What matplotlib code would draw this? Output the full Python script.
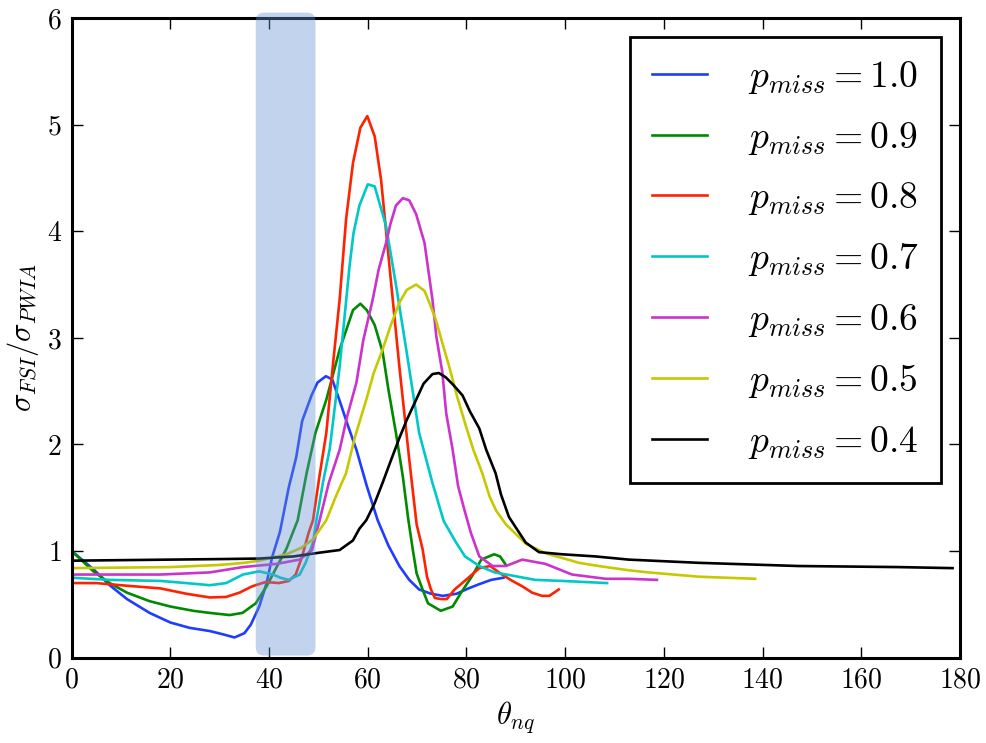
import numpy as np
import matplotlib
matplotlib.use('Agg')
from matplotlib import pyplot as plt
from matplotlib.patches import FancyBboxPatch

plt.rcParams['font.family'] = 'serif'
plt.rcParams['font.serif'] = ['cmr10']
plt.rcParams['mathtext.fontset'] = 'cm'
plt.rcParams['axes.formatter.use_mathtext'] = True

# p_miss = 1.0
x_10 = [0, 4.4, 7.7, 11.2, 15.8, 20, 23.9, 28, 30.6, 33, 35, 36.3, 38, 39.5, 40.6, 42.2, 44, 45.5, 46.7,
        48.6, 49.8, 51.5, 52.8, 54.3, 55.8, 57.7, 59.8, 62, 64.2, 66.4, 68.4, 70.4, 72.8, 75.2, 78, 80.4,
        82.6, 85, 87.5]
y_10 = [1.00, 0.83, 0.68, 0.55, 0.42, 0.33, 0.28, 0.25, 0.22, 0.19, 0.23, 0.31, 0.48, 0.70, 0.94, 1.18, 1.60,
        1.88, 2.22, 2.46, 2.58, 2.64, 2.61, 2.41, 2.20, 1.95, 1.61, 1.29, 1.05, 0.86, 0.73, 0.64, 0.60, 0.58,
        0.60, 0.65, 0.69, 0.73, 0.75]
# p_miss = 0.9
x_09 = [0, 4.4, 7.7, 11.2, 15.8, 20, 24.6, 28, 32, 34.6, 37.3, 39.5, 41.3, 43.5, 45.8, 47.6, 49.4, 51.6,
        54.3, 57, 58.5, 59.8, 61.4, 63, 64.2, 65.7, 67.1, 68.2, 69.1, 69.9, 71.1, 72.2, 74.8, 77.2, 78.9,
        81.2, 83, 85.6, 86.8, 88]
y_09 = [1.00, 0.81, 0.70, 0.61, 0.53, 0.48, 0.44, 0.42, 0.40, 0.42, 0.51, 0.67, 0.83, 1.02, 1.29, 1.73, 2.11,
        2.42, 2.89, 3.26, 3.32, 3.26, 3.12, 2.87, 2.51, 2.11, 1.70, 1.30, 1.02, 0.79, 0.64, 0.51, 0.44, 0.48,
        0.61, 0.77, 0.92, 0.97, 0.95, 0.87]
# p_miss = 0.8
x_08 = [0, 5, 11.2, 18, 23.2, 28, 31.3, 34, 36.6, 39.3, 42, 44, 45.4, 46.7, 48, 48.9, 50.2, 51.6, 52.9,
        54.3, 55.6, 57, 58.5, 59.9, 61.4, 62.7, 64.4, 66.4, 68.4, 69.9, 71.1, 72, 72.8, 73.6, 74.8, 76,
        77.6, 79.9, 82.6, 84.8, 87.2, 89.3, 91.3, 93.3, 95.3, 96.8, 98.7]
y_08 = [0.70, 0.70, 0.675, 0.65, 0.60, 0.565, 0.57, 0.61, 0.67, 0.71, 0.70, 0.72, 0.78, 0.95, 1.17, 1.29,
        1.70, 2.11, 2.73, 3.36, 4.11, 4.64, 4.97, 5.08, 4.89, 4.48, 3.67, 2.73, 1.86, 1.25, 1.02, 0.76, 0.64,
        0.56, 0.55, 0.55, 0.64, 0.73, 0.84, 0.86, 0.78, 0.72, 0.67, 0.61, 0.58, 0.58, 0.64]
# p_miss = 0.7
x_07 = [0, 7.7, 18, 23.2, 28, 31.3, 34.7, 38, 40.8, 42.3, 44, 46.2, 47.4, 48.9, 49.6, 50.9, 52.3, 54.3,
        56.3, 57.1, 58.3, 60, 61.4, 63.7, 65.7, 67.8, 70.4, 73.1, 75.4, 77.9, 79.7, 82.6, 85.7, 89.3, 93.9,
        99.4, 108.5]
y_07 = [0.75, 0.73, 0.72, 0.70, 0.68, 0.70, 0.78, 0.81, 0.78, 0.75, 0.73, 0.78, 0.89, 1.08, 1.29, 1.64, 1.96,
        2.73, 3.67, 3.98, 4.24, 4.44, 4.42, 4.05, 3.50, 2.89, 2.11, 1.64, 1.28, 1.08, 0.95, 0.86, 0.80, 0.77,
        0.73, 0.72, 0.70]
# p_miss = 0.6
x_06 = [0, 10, 18, 28, 34.7, 41.5, 46.2, 48.7, 50.3, 52.1, 54.3, 55.8, 57.7, 59.1, 61, 62.2, 63.7, 64.6,
        65.7, 67.1, 68.4, 69.8, 71.5, 73.1, 73.9, 75.1, 75.9, 77.2, 78.3, 79.5, 80.9, 82.6, 85.3, 88, 91.3,
        96, 101.4, 108.2, 112.9, 118.6]
y_06 = [0.78, 0.78, 0.78, 0.80, 0.85, 0.88, 0.92, 1.01, 1.30, 1.64, 1.95, 2.26, 2.58, 2.98, 3.36, 3.64, 3.89,
        4.07, 4.24, 4.31, 4.29, 4.16, 3.89, 3.36, 3.01, 2.68, 2.29, 1.95, 1.61, 1.40, 1.17, 0.95, 0.86, 0.86,
        0.92, 0.88, 0.78, 0.74, 0.74, 0.73]
# p_miss = 0.5
x_05 = [0, 10, 20, 30, 35, 38, 43.5, 46.5, 48.9, 51.6, 53.5, 55.6, 57.4, 59.7, 61.2, 63, 64.6, 66.4, 67.9,
        69.8, 71.5, 72.3, 73.8, 75, 76.5, 78.1, 79.9, 81.4, 83.2, 84.7, 86, 88, 92, 96, 102.8, 106.8, 112.9,
        116.9, 127, 138.5]
y_05 = [0.84, 0.845, 0.85, 0.87, 0.89, 0.91, 0.97, 1.03, 1.11, 1.29, 1.51, 1.73, 2.07, 2.42, 2.67, 2.89,
        3.11, 3.33, 3.45, 3.50, 3.44, 3.35, 3.17, 2.97, 2.73, 2.45, 2.17, 1.95, 1.73, 1.51, 1.38, 1.25, 1.07,
        0.98, 0.89, 0.86, 0.82, 0.80, 0.76, 0.74]
# p_miss = 0.4
x_04 = [0, 10, 20, 30, 38, 45, 50.2, 54.3, 57, 58.3, 59.7, 61.4, 63, 64.6, 66.4, 67.9, 69.8, 71.3, 73.1,
        74.4, 75.8, 77.3, 79.2, 80.7, 82.6, 84, 85.9, 87, 88.6, 92, 94.7, 99.4, 106.1, 112.9, 127, 147.2,
        167.4, 178.5]
y_04 = [0.91, 0.915, 0.92, 0.925, 0.93, 0.95, 0.985, 1.01, 1.10, 1.21, 1.29, 1.45, 1.64, 1.84, 2.06, 2.23,
        2.42, 2.57, 2.66, 2.67, 2.63, 2.56, 2.46, 2.31, 2.15, 1.95, 1.73, 1.53, 1.32, 1.08, 0.99, 0.97, 0.95,
        0.92, 0.89, 0.86, 0.85, 0.84]

series = [(x_10, y_10, '#1f3cff', '1.0'), (x_09, y_09, '#008a00', '0.9'), (x_08, y_08, '#ff2200', '0.8'),
          (x_07, y_07, '#00c8c8', '0.7'), (x_06, y_06, '#cc33cc', '0.6'), (x_05, y_05, '#c8c800', '0.5'),
          (x_04, y_04, 'k', '0.4')]

band_lo, band_hi = 37.3, 49.4

fig = plt.figure(figsize=(9.86, 7.43), dpi=100)
ax = fig.add_axes([0.0727, 0.1148, 0.9009, 0.861])

for xs, ys, col, lab in series:
    ax.plot(xs, ys, color=col, lw=1.9, label=r'$p_{miss} = %s$' % lab)

ax.set_xlim(0, 180)
ax.set_ylim(0, 6)
ax.set_xticks(np.arange(0, 181, 20))
ax.set_yticks(np.arange(0, 7, 1))

# shaded region, rounded corners (aspect corrected)
asp = (0.9009 * 986 / 180.0) / (0.861 * 743 / 6.0)
band = FancyBboxPatch((band_lo, 0.02), band_hi - band_lo, 6.03,
                      boxstyle='round,pad=0,rounding_size=1.7', mutation_aspect=asp,
                      fc=(0.40, 0.575, 0.825), ec='none', alpha=0.4, zorder=5, clip_on=False)
ax.add_patch(band)

for s in ax.spines.values():
    s.set_linewidth(2.2)
ax.tick_params(direction='in', length=8, width=1, top=True, right=True, labelsize=20, pad=7)

ax.set_xlabel(r'$\theta_{nq}$', fontsize=22)
ax.set_ylabel(r'$\sigma_{FSI}/\sigma_{PWIA}$', fontsize=22)

leg = ax.legend(loc='upper right', fontsize=27, handlelength=1.45, handletextpad=1.1,
                fancybox=False, framealpha=1, edgecolor='k', borderpad=0.6, labelspacing=0.63)
leg.get_frame().set_linewidth(2)

fig.savefig('out.png', dpi=100)
